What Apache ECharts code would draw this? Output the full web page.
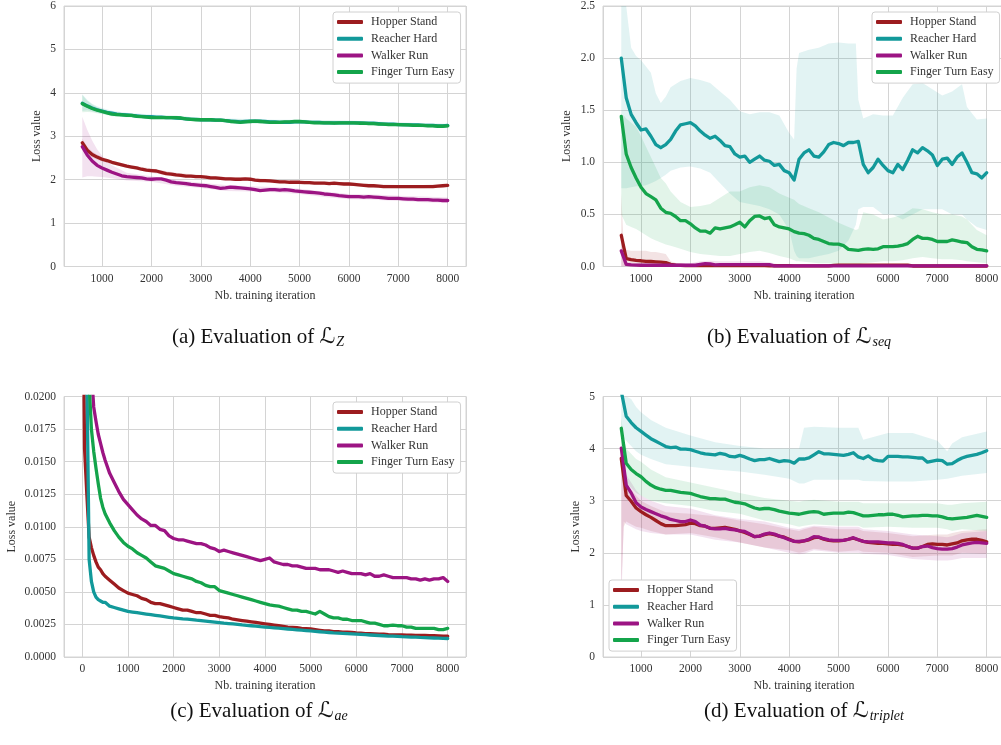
<!DOCTYPE html>
<html><head><meta charset="utf-8">
<script src="https://cdn.jsdelivr.net/npm/echarts@6/dist/echarts.min.js"></script>
<style>html,body{margin:0;padding:0;background:#fff}#c{width:1001px;height:745px}</style>
</head><body><div id="c"></div>
<script>
// ---------- categories / names ----------
const NAMES = ['Hopper Stand', 'Reacher Hard', 'Walker Run', 'Finger Turn Easy'];
const CAPTIONS = [
  ['(a) Evaluation of ', 'Z'],
  ['(b) Evaluation of ', 'seq'],
  ['(c) Evaluation of ', 'ae'],
  ['(d) Evaluation of ', 'triplet']
];
// ---------- iterations ----------
const iterA = [600,700,800,900,1000,1100,1200,1300,1400,1500,
  1600,1700,1800,1900,2000,2100,2200,2300,2400,2500,
  2600,2700,2800,2900,3000,3100,3200,3300,3400,3500,
  3600,3700,3800,3900,4000,4100,4200,4300,4400,4500,
  4600,4700,4800,4900,5000,5100,5200,5300,5400,5500,
  5600,5700,5800,5900,6000,6100,6200,6300,6400,6500,
  6600,6700,6800,6900,7000,7100,7200,7300,7400,7500,
  7600,7700,7800,7900,8000];
const iterC = [0,50,100,150,200,250,300,350,400,450,500,
  600,700,800,900,1000,1100,1200,1300,1400,1500,
  1600,1700,1800,1900,2000,2100,2200,2300,2400,2500,
  2600,2700,2800,2900,3000,3100,3200,3300,3400,3500,
  3600,3700,3800,3900,4000,4100,4200,4300,4400,4500,
  4600,4700,4800,4900,5000,5100,5200,5300,5400,5500,
  5600,5700,5800,5900,6000,6100,6200,6300,6400,6500,
  6600,6700,6800,6900,7000,7100,7200,7300,7400,7500,
  7600,7700,7800,7900,8000];

// ---------- (a) L_Z ----------
const hopA = [2.85,2.68,2.58,2.52,2.47,2.44,2.40,2.37,2.34,2.31,
  2.29,2.27,2.24,2.22,2.21,2.20,2.17,2.14,2.13,2.11,
  2.10,2.08,2.08,2.07,2.07,2.06,2.04,2.04,2.03,2.02,
  2.02,2.01,2.01,2.02,2.01,1.99,1.98,1.98,1.97,1.96,
  1.95,1.95,1.94,1.94,1.94,1.93,1.93,1.92,1.92,1.92,
  1.91,1.92,1.91,1.90,1.90,1.89,1.88,1.87,1.86,1.86,
  1.85,1.84,1.84,1.84,1.84,1.84,1.84,1.84,1.84,1.84,
  1.84,1.84,1.85,1.86,1.87];
const reaA = [3.76,3.70,3.65,3.61,3.58,3.55,3.53,3.51,3.50,3.49,
  3.48,3.47,3.46,3.45,3.45,3.44,3.44,3.43,3.43,3.42,
  3.41,3.40,3.39,3.39,3.38,3.38,3.38,3.37,3.37,3.36,
  3.35,3.34,3.33,3.34,3.35,3.35,3.35,3.34,3.33,3.33,
  3.32,3.32,3.32,3.33,3.33,3.33,3.32,3.32,3.32,3.31,
  3.31,3.31,3.31,3.31,3.31,3.31,3.31,3.30,3.30,3.30,
  3.29,3.28,3.28,3.28,3.27,3.27,3.26,3.26,3.26,3.25,
  3.25,3.25,3.24,3.24,3.25];
const walA = [2.76,2.57,2.43,2.33,2.27,2.22,2.17,2.13,2.09,2.07,
  2.06,2.05,2.04,2.02,2.01,2.02,2.02,1.99,1.95,1.93,
  1.92,1.91,1.89,1.88,1.87,1.86,1.84,1.82,1.80,1.81,
  1.83,1.82,1.81,1.80,1.79,1.77,1.75,1.76,1.77,1.77,
  1.76,1.77,1.76,1.74,1.73,1.72,1.71,1.70,1.69,1.67,
  1.66,1.65,1.63,1.62,1.61,1.61,1.61,1.60,1.61,1.60,
  1.59,1.58,1.57,1.57,1.57,1.56,1.55,1.55,1.54,1.54,
  1.54,1.53,1.53,1.52,1.52];
const finA = [3.75,3.69,3.64,3.60,3.57,3.54,3.51,3.50,3.49,3.48,
  3.48,3.46,3.45,3.44,3.43,3.43,3.43,3.43,3.43,3.43,
  3.42,3.40,3.39,3.38,3.38,3.38,3.38,3.37,3.37,3.36,
  3.34,3.33,3.32,3.33,3.34,3.35,3.34,3.33,3.32,3.32,
  3.32,3.33,3.33,3.34,3.34,3.33,3.32,3.31,3.31,3.31,
  3.31,3.30,3.31,3.31,3.31,3.31,3.30,3.30,3.29,3.29,
  3.28,3.28,3.27,3.27,3.27,3.26,3.26,3.25,3.25,3.25,
  3.24,3.24,3.23,3.23,3.24];
const bandXA = [600,700,800,900,1000,1200,1500,2000,2500,3000,3500,4000,4500,5000,5500,6000,6500,7000,7500,8000];
const hopLoA = [2.75,2.60,2.51,2.46,2.42,2.36,2.27,2.16,2.06,2.03,1.98,1.97,1.92,1.90,1.88,1.86,1.82,1.80,1.80,1.83];
const hopHiA = [2.95,2.76,2.65,2.58,2.52,2.44,2.35,2.26,2.16,2.11,2.06,2.05,2.00,1.98,1.96,1.94,1.90,1.88,1.88,1.91];
const reaLoA = [3.58,3.60,3.57,3.54,3.52,3.48,3.45,3.40,3.39,3.35,3.32,3.30,3.29,3.29,3.27,3.27,3.26,3.23,3.21,3.21];
const reaHiA = [3.97,3.84,3.75,3.69,3.65,3.59,3.54,3.50,3.47,3.42,3.41,3.40,3.38,3.38,3.36,3.36,3.34,3.32,3.30,3.29];
const walLoA = [2.05,2.08,2.08,2.07,2.06,2.03,1.98,1.95,1.86,1.81,1.74,1.73,1.71,1.67,1.60,1.55,1.54,1.51,1.48,1.46];
const walHiA = [3.45,3.15,2.90,2.70,2.55,2.33,2.16,2.08,1.99,1.93,1.88,1.85,1.83,1.79,1.73,1.67,1.66,1.63,1.61,1.59];
const finLoA = [3.55,3.56,3.55,3.53,3.51,3.46,3.44,3.39,3.39,3.34,3.32,3.30,3.28,3.30,3.27,3.27,3.25,3.23,3.21,3.20];
const finHiA = [3.95,3.82,3.73,3.67,3.63,3.57,3.52,3.47,3.47,3.42,3.40,3.38,3.37,3.38,3.36,3.35,3.33,3.31,3.29,3.28];

// ---------- (b) L_seq ----------
const hopB = [0.30,0.075,0.065,0.058,0.055,0.050,0.048,0.045,0.042,0.038,
  0.020,0.012,0.010,0.009,0.008,0.008,0.008,0.008,0.008,0.008,
  0.008,0.008,0.008,0.008,0.008,0.008,0.008,0.008,0.008,0.008,
  0.007,0.007,0.007,0.007,0.007,0.006,0.006,0.006,0.006,0.006,
  0.006,0.006,0.006,0.010,0.012,0.012,0.012,0.012,0.012,0.012,
  0.012,0.012,0.012,0.012,0.012,0.012,0.012,0.012,0.012,0.005,
  0.005,0.005,0.005,0.005,0.005,0.005,0.005,0.005,0.005,0.005,
  0.005,0.005,0.005,0.005,0.005];
const reaB = [2.00,1.62,1.46,1.38,1.31,1.32,1.25,1.17,1.14,1.17,
  1.22,1.30,1.36,1.37,1.38,1.35,1.30,1.26,1.23,1.25,
  1.21,1.16,1.15,1.08,1.05,1.06,1.00,1.03,1.06,1.02,
  1.01,0.97,0.98,0.92,0.90,0.83,1.03,1.09,1.12,1.06,
  1.05,1.10,1.17,1.19,1.18,1.16,1.19,1.19,1.20,0.98,
  0.90,0.95,1.03,0.97,0.92,0.90,0.98,0.93,1.02,1.12,
  1.09,1.14,1.11,1.07,0.97,1.03,1.04,0.98,1.05,1.09,
  1.00,0.90,0.89,0.85,0.90];
const walB = [0.15,0.020,0.015,0.013,0.012,0.012,0.012,0.012,0.012,0.012,
  0.012,0.012,0.012,0.012,0.012,0.012,0.020,0.028,0.025,0.015,
  0.018,0.018,0.018,0.018,0.018,0.018,0.018,0.018,0.018,0.018,
  0.018,0.006,0.006,0.006,0.006,0.006,0.006,0.006,0.006,0.006,
  0.006,0.006,0.006,0.006,0.006,0.006,0.006,0.006,0.006,0.006,
  0.006,0.006,0.006,0.006,0.006,0.006,0.006,0.006,0.006,0.006,
  0.006,0.006,0.006,0.006,0.006,0.006,0.006,0.006,0.006,0.006,
  0.006,0.006,0.006,0.006,0.006];
const finB = [1.44,1.08,0.95,0.85,0.76,0.70,0.67,0.64,0.56,0.52,
  0.51,0.48,0.44,0.44,0.41,0.37,0.34,0.34,0.32,0.37,
  0.36,0.37,0.38,0.40,0.425,0.38,0.44,0.48,0.485,0.46,
  0.47,0.40,0.38,0.37,0.36,0.335,0.32,0.315,0.30,0.27,
  0.26,0.24,0.22,0.215,0.215,0.20,0.165,0.16,0.155,0.165,
  0.17,0.165,0.17,0.19,0.19,0.19,0.195,0.205,0.22,0.26,
  0.29,0.27,0.27,0.26,0.24,0.24,0.24,0.255,0.245,0.235,
  0.23,0.19,0.165,0.16,0.15];
const bandXB = [600,650,700,800,900,1000,1100,1200,1300,1400,1500,1600,1800,2000,2200,2400,2600,2800,3000,3200,3400,3600,3800,4000,4100,4150,4200,4400,4600,4800,5000,5200,5350,5400,5500,5700,5900,6100,6300,6500,6700,6900,7100,7300,7500,7600,7800,8000];
const reaHiB = [2.8,2.6,2.5,2.1,2.02,1.98,1.92,1.86,1.66,1.57,1.63,1.72,1.78,1.81,1.79,1.76,1.68,1.60,1.49,1.46,1.48,1.48,1.45,1.28,1.22,1.9,2.05,2.08,2.10,2.14,2.15,2.14,2.14,1.6,1.42,1.46,1.45,1.45,1.62,1.75,1.76,1.70,1.64,1.68,1.75,1.53,1.41,1.42];
const reaLoB = [0.75,0.75,0.75,0.76,0.77,0.77,0.78,0.80,0.82,0.85,0.88,0.92,0.95,0.96,0.94,0.90,0.80,0.70,0.62,0.60,0.58,0.55,0.50,0.35,0.15,0.10,0.08,0.08,0.10,0.12,0.15,0.25,0.40,0.55,0.57,0.57,0.50,0.50,0.45,0.50,0.55,0.55,0.55,0.50,0.50,0.45,0.38,0.35];
const finHiB = [1.45,1.45,1.42,1.38,1.34,1.25,1.15,1.05,0.95,0.85,0.80,0.72,0.62,0.57,0.58,0.60,0.66,0.72,0.72,0.76,0.78,0.76,0.70,0.66,0.64,0.62,0.60,0.56,0.52,0.47,0.42,0.38,0.35,0.36,0.52,0.50,0.45,0.47,0.50,0.56,0.55,0.52,0.50,0.50,0.48,0.45,0.35,0.30];
const finLoB = [0.50,0.45,0.40,0.38,0.36,0.33,0.30,0.27,0.25,0.23,0.21,0.20,0.17,0.14,0.12,0.11,0.10,0.10,0.12,0.14,0.15,0.13,0.10,0.08,0.06,0.05,0.05,0.04,0.03,0.03,0.02,0.02,0.02,0.02,0.03,0.04,0.05,0.05,0.06,0.08,0.09,0.08,0.07,0.07,0.06,0.05,0.04,0.03];
const hopHiB = [0.70,0.20,0.16,0.15,0.15,0.15,0.15,0.14,0.14,0.13,0.12,0.05,0.02,0.02,0.02,0.02,0.02,0.02,0.02,0.02,0.02,0.02,0.02,0.015,0.015,0.015,0.015,0.015,0.015,0.02,0.025,0.025,0.025,0.025,0.025,0.025,0.025,0.025,0.025,0.01,0.01,0.01,0.01,0.01,0.01,0.01,0.01,0.01];
const hopLoB = [0,0,0,0,0,0,0,0,0,0,0,0,0,0,0,0,0,0,0,0,0,0,0,0,0,0,0,0,0,0,0,0,0,0,0,0,0,0,0,0,0,0,0,0,0,0,0,0];
const walHiB = [0.30,0.05,0.04,0.035,0.03,0.03,0.03,0.03,0.03,0.03,0.03,0.03,0.03,0.03,0.05,0.055,0.05,0.05,0.05,0.05,0.05,0.04,0.02,0.015,0.015,0.015,0.015,0.015,0.015,0.015,0.015,0.015,0.015,0.015,0.015,0.015,0.015,0.015,0.015,0.015,0.015,0.015,0.015,0.015,0.015,0.015,0.015,0.015];
const walLoB = [0,0,0,0,0,0,0,0,0,0,0,0,0,0,0,0,0,0,0,0,0,0,0,0,0,0,0,0,0,0,0,0,0,0,0,0,0,0,0,0,0,0,0,0,0,0,0,0];

// ---------- (c) L_ae ----------
const hopC = [0.035,0.016,0.0125,0.0092,0.0084,0.0078,0.0073,0.0069,0.0067,0.0064,0.0062,
  0.0059,0.0056,0.0053,0.0051,0.0049,0.0048,0.0047,0.0045,0.0044,0.0042,
  0.0041,0.0041,0.0040,0.0039,0.0038,0.0037,0.0036,0.0036,0.0035,0.0034,
  0.0034,0.0033,0.0032,0.0032,0.0031,0.00305,0.0030,0.0029,0.00285,0.0028,
  0.00275,0.0027,0.00265,0.0026,0.00255,0.0025,0.00245,0.0024,0.00235,0.0023,
  0.00228,0.00225,0.0022,0.00218,0.00215,0.0021,0.00205,0.0020,0.0020,0.00195,
  0.00195,0.0019,0.0019,0.00188,0.00185,0.00183,0.0018,0.0018,0.00178,0.00175,
  0.00175,0.00172,0.0017,0.0017,0.0017,0.00168,0.00168,0.00166,0.00165,0.00165,
  0.00163,0.00163,0.00162,0.0016,0.0016];
const reaC = [0.08,0.04,0.022,0.0075,0.0058,0.0050,0.0046,0.0044,0.0043,0.0042,0.0042,
  0.0039,0.0038,0.0037,0.0036,0.0035,0.00345,0.0034,0.00335,0.0033,0.00325,
  0.0032,0.00315,0.0031,0.00305,0.0030,0.00297,0.00293,0.0029,0.00287,0.00283,
  0.0028,0.00276,0.00272,0.00268,0.00264,0.0026,0.00257,0.00254,0.0025,0.00246,
  0.00243,0.0024,0.00237,0.00233,0.0023,0.00227,0.00224,0.00221,0.00218,0.00215,
  0.00212,0.00209,0.00206,0.00203,0.0020,0.00197,0.00194,0.00191,0.00188,0.00185,
  0.00183,0.00181,0.00179,0.00177,0.00175,0.00173,0.00171,0.00169,0.00167,0.00165,
  0.00163,0.00161,0.0016,0.00158,0.00156,0.00155,0.00153,0.00152,0.0015,0.00149,
  0.00147,0.00146,0.00145,0.00143,0.00142];
const walC = [0.1,0.07,0.045,0.03,0.022,0.0192,0.0181,0.0171,0.0164,0.0157,0.0151,
  0.0141,0.0134,0.0127,0.0121,0.0117,0.0113,0.0109,0.0106,0.0104,0.0101,
  0.0101,0.0098,0.0097,0.0093,0.0091,0.0090,0.0090,0.0089,0.0088,0.0087,
  0.0087,0.0086,0.0084,0.0083,0.0081,0.0082,0.0081,0.0080,0.0079,0.0078,
  0.0077,0.0076,0.0075,0.0074,0.0075,0.0076,0.0073,0.0072,0.0071,0.0071,
  0.0070,0.0070,0.0069,0.0068,0.0068,0.0068,0.0067,0.0067,0.0067,0.0066,
  0.0065,0.0066,0.0065,0.0064,0.0064,0.0064,0.0063,0.0064,0.0062,0.0062,
  0.0063,0.0062,0.0061,0.0061,0.0061,0.0061,0.0060,0.0060,0.0059,0.0060,
  0.0059,0.0060,0.0060,0.0061,0.0058];
const finC = [0.09,0.05,0.03,0.021,0.0175,0.0158,0.0145,0.0133,0.0122,0.0115,0.0110,
  0.0103,0.0097,0.0092,0.0088,0.0085,0.0083,0.0080,0.0078,0.0076,0.0073,
  0.0070,0.0069,0.0068,0.0066,0.0064,0.0063,0.0062,0.0061,0.0060,0.0058,
  0.0057,0.0055,0.0054,0.0054,0.0051,0.0050,0.0049,0.0048,0.0047,0.0046,
  0.0045,0.0044,0.0043,0.0042,0.0041,0.0040,0.00395,0.0039,0.0038,0.0037,
  0.0036,0.0036,0.0035,0.0035,0.0034,0.0033,0.0035,0.0033,0.0031,0.0030,
  0.0030,0.0029,0.0029,0.0028,0.0028,0.0028,0.0027,0.0026,0.0026,0.0025,
  0.0024,0.0024,0.00245,0.0024,0.0024,0.0023,0.0023,0.0022,0.0022,0.0022,
  0.0022,0.0022,0.0021,0.0021,0.0022];

// ---------- (d) L_triplet ----------
const hopD = [3.81,3.10,2.99,2.86,2.79,2.73,2.68,2.62,2.56,2.52,
  2.52,2.52,2.53,2.54,2.57,2.56,2.52,2.51,2.47,2.47,
  2.48,2.49,2.47,2.45,2.42,2.39,2.35,2.31,2.32,2.35,
  2.37,2.35,2.32,2.30,2.26,2.22,2.21,2.23,2.25,2.29,
  2.30,2.26,2.24,2.23,2.23,2.24,2.26,2.28,2.25,2.22,
  2.20,2.19,2.18,2.18,2.17,2.16,2.16,2.15,2.12,2.09,
  2.09,2.12,2.16,2.17,2.16,2.16,2.15,2.17,2.19,2.23,
  2.25,2.26,2.26,2.24,2.21];
const reaD = [5.10,4.62,4.50,4.40,4.33,4.26,4.19,4.14,4.09,4.04,
  4.02,4.03,3.99,3.99,3.98,3.95,3.92,3.90,3.89,3.88,
  3.91,3.89,3.85,3.84,3.87,3.84,3.80,3.77,3.79,3.79,
  3.81,3.78,3.75,3.77,3.76,3.72,3.80,3.80,3.82,3.88,
  3.94,3.90,3.90,3.89,3.88,3.87,3.89,3.92,3.84,3.81,
  3.86,3.79,3.77,3.76,3.85,3.85,3.85,3.84,3.84,3.83,
  3.82,3.82,3.74,3.76,3.78,3.77,3.70,3.71,3.77,3.82,
  3.85,3.87,3.89,3.92,3.96];
const walD = [4.01,3.30,3.15,2.96,2.88,2.83,2.79,2.75,2.71,2.68,
  2.64,2.62,2.60,2.60,2.63,2.60,2.53,2.51,2.47,2.46,
  2.46,2.47,2.45,2.44,2.42,2.41,2.36,2.31,2.32,2.36,
  2.38,2.36,2.32,2.29,2.25,2.22,2.22,2.23,2.26,2.31,
  2.30,2.27,2.25,2.24,2.24,2.24,2.26,2.29,2.25,2.22,
  2.21,2.21,2.21,2.20,2.19,2.19,2.18,2.16,2.12,2.09,
  2.09,2.12,2.13,2.10,2.08,2.07,2.07,2.08,2.11,2.15,
  2.17,2.19,2.20,2.19,2.18];
const finD = [4.39,3.72,3.60,3.52,3.46,3.37,3.30,3.25,3.22,3.20,
  3.20,3.18,3.16,3.15,3.14,3.11,3.08,3.06,3.04,3.04,
  3.03,3.03,3.00,2.97,2.96,2.94,2.90,2.86,2.84,2.85,
  2.85,2.83,2.80,2.78,2.76,2.75,2.74,2.76,2.78,2.79,
  2.78,2.74,2.75,2.76,2.76,2.76,2.78,2.77,2.74,2.71,
  2.71,2.72,2.73,2.73,2.74,2.74,2.72,2.69,2.70,2.71,
  2.71,2.72,2.72,2.71,2.71,2.69,2.66,2.65,2.66,2.67,
  2.68,2.70,2.72,2.70,2.68];
const bandXD = [600,650,700,800,900,1000,1200,1500,2000,2500,3000,3500,4000,4200,4300,4500,5000,5400,5500,6000,6500,7000,7200,7300,7500,8000];
const reaHiD = [6.0,5.6,5.2,4.95,4.8,4.7,4.55,4.4,4.25,4.12,4.05,4.0,4.0,4.0,4.4,4.42,4.4,4.4,4.17,4.3,4.3,4.15,3.95,4.1,4.22,4.33];
const reaLoD = [4.3,4.2,4.15,4.05,3.95,3.88,3.8,3.7,3.65,3.6,3.56,3.5,3.42,3.33,3.33,3.40,3.40,3.40,3.38,3.37,3.37,3.40,3.42,3.44,3.48,3.53];
const finHiD = [4.6,4.2,4.0,3.9,3.8,3.75,3.6,3.45,3.35,3.25,3.15,3.05,3.0,2.98,3.0,3.02,2.98,2.98,2.95,2.95,2.95,2.95,2.92,2.92,2.95,2.98];
const finLoD = [3.6,3.4,3.35,3.25,3.15,3.1,3.0,2.95,2.9,2.8,2.75,2.62,2.55,2.5,2.52,2.55,2.52,2.52,2.48,2.5,2.48,2.48,2.45,2.42,2.45,2.42];
const hopHiD = [4.0,3.5,3.3,3.2,3.1,3.0,2.9,2.78,2.75,2.7,2.62,2.55,2.45,2.42,2.45,2.5,2.45,2.45,2.42,2.38,2.32,2.35,2.35,2.38,2.42,2.45];
const hopLoD = [1.3,2.5,2.6,2.55,2.5,2.48,2.42,2.35,2.38,2.3,2.2,2.1,2.05,2.0,2.02,2.08,2.02,2.05,2.02,2.0,1.92,1.95,1.95,1.95,2.0,1.98];
const walHiD = [4.2,3.7,3.5,3.35,3.2,3.1,3.0,2.9,2.85,2.72,2.65,2.6,2.48,2.45,2.48,2.52,2.5,2.5,2.45,2.42,2.35,2.32,2.3,2.32,2.38,2.42];
const walLoD = [1.0,2.6,2.55,2.5,2.45,2.42,2.38,2.35,2.35,2.25,2.2,2.1,2.0,1.97,1.98,2.05,2.0,2.0,1.98,1.96,1.88,1.85,1.85,1.86,1.9,1.9];

// ---------- styling ----------
const COLORS = ['#9c1c1f', '#12999a', '#9c1483', '#14a44b'];
const SERIF = "'Liberation Serif', 'Times New Roman', serif";
const TXT = '#333333';
const GRIDC = '#d4d4d4';
const BAND_ALPHA = 0.12;

function rgba(hex, a) {
  const n = parseInt(hex.slice(1), 16);
  return 'rgba(' + (n >> 16 & 255) + ',' + (n >> 8 & 255) + ',' + (n & 255) + ',' + a + ')';
}
function zip(xs, ys) { return xs.map((x, i) => [x, ys[i]]); }

function bandSeries(gi, xs, lo, hi, color, yMax) {
  const pts = xs.map((x, i) => [x, lo[i], hi[i]]);
  return {
    type: 'custom', name: 'band' + gi + color, xAxisIndex: gi, yAxisIndex: gi,
    silent: true, clip: true, z: 1, animation: false,
    data: pts, encode: { x: 0, y: [1, 2] },
    renderItem: function (params, api) {
      if (params.dataIndex !== 0) return null;
      const up = pts.map(p => api.coord([p[0], Math.min(p[2], yMax)]));
      const dn = pts.slice().reverse().map(p => api.coord([p[0], Math.max(p[1], 0)]));
      return { type: 'polygon', shape: { points: up.concat(dn) }, style: { fill: rgba(color, BAND_ALPHA) }, silent: true };
    }
  };
}
function lineSeries(gi, idx, xs, ys) {
  return {
    type: 'line', name: NAMES[idx], xAxisIndex: gi, yAxisIndex: gi,
    data: zip(xs, ys), symbol: 'none', showSymbol: false, clip: true, z: 3,
    silent: true, animation: false,
    lineStyle: { width: 3.3, color: COLORS[idx], cap: 'round', join: 'round' },
    itemStyle: { color: COLORS[idx] }
  };
}
const labelStyle = { color: TXT, fontFamily: SERIF, fontSize: 11.5 };
function xAx(gi, min, max) {
  return {
    type: 'value', gridIndex: gi, min: min, max: max, splitNumber: 8,
    minInterval: 1000, maxInterval: 1000,
    axisLine: { show: false }, axisTick: { show: false },
    axisLabel: Object.assign({ showMinLabel: false, showMaxLabel: false, margin: 6, formatter: v => String(v) }, labelStyle),
    splitLine: { show: true, lineStyle: { color: GRIDC, width: 1 } },
    name: 'Nb. training iteration', nameLocation: 'middle', nameGap: 23,
    nameTextStyle: { color: TXT, fontFamily: SERIF, fontSize: 12 }
  };
}
function yAx(gi, max, interval, dec, gap) {
  return {
    type: 'value', gridIndex: gi, min: 0, max: max, interval: interval,
    axisLine: { show: false }, axisTick: { show: false },
    axisLabel: Object.assign({ margin: 8, formatter: v => v.toFixed(dec) }, labelStyle),
    splitLine: { show: true, lineStyle: { color: GRIDC, width: 1 } },
    name: 'Loss value', nameLocation: 'middle', nameGap: gap, nameRotate: 90,
    nameTextStyle: { color: TXT, fontFamily: SERIF, fontSize: 12 }
  };
}
function grid(left, top) {
  return { left: left, top: top, width: 402, height: 260.5, show: true, borderColor: GRIDC, borderWidth: 1,
    backgroundColor: '#fff', containLabel: false, outerBoundsMode: 'none' };
}
function legend(left, top) {
  return {
    left: left, top: top, orient: 'vertical', data: NAMES, selectedMode: false,
    icon: 'roundRect', itemWidth: 26, itemHeight: 4, itemGap: 2.7,
    padding: [3, 6, 4, 4], backgroundColor: '#ffffff', borderColor: '#d0d0d0', borderWidth: 1, borderRadius: 3,
    textStyle: { color: TXT, fontFamily: SERIF, fontSize: 12, lineHeight: 14, padding: [0, 0, 0, 3] }, z: 10
  };
}
function caption(i, cx, cy) {
  return {
    type: 'text', x: cx, y: cy, silent: true, z: 10,
    style: {
      text: '{m|' + CAPTIONS[i][0] + '}{L|\u2112}{s|' + CAPTIONS[i][1] + '}',
      align: 'center', verticalAlign: 'middle',
      rich: {
        m: { fontFamily: SERIF, fontSize: 21, fill: '#111', color: '#111', lineHeight: 24 },
        L: { fontFamily: "'DejaVu Serif', 'DejaVu Sans', serif", fontSize: 22, fill: '#111', color: '#111', lineHeight: 24 },
        s: { fontFamily: SERIF, fontStyle: 'italic', fontSize: 14, fill: '#111', color: '#111', lineHeight: 14, padding: [10, 0, 0, 1] }
      }
    }
  };
}

const series = [
  // (a)
  bandSeries(0, bandXA, hopLoA, hopHiA, COLORS[0], 6),
  bandSeries(0, bandXA, reaLoA, reaHiA, COLORS[1], 6),
  bandSeries(0, bandXA, walLoA, walHiA, COLORS[2], 6),
  bandSeries(0, bandXA, finLoA, finHiA, COLORS[3], 6),
  lineSeries(0, 0, iterA, hopA), lineSeries(0, 1, iterA, reaA), lineSeries(0, 2, iterA, walA), lineSeries(0, 3, iterA, finA),
  // (b)
  bandSeries(1, bandXB, hopLoB, hopHiB, COLORS[0], 2.5),
  bandSeries(1, bandXB, reaLoB, reaHiB, COLORS[1], 2.5),
  bandSeries(1, bandXB, walLoB, walHiB, COLORS[2], 2.5),
  bandSeries(1, bandXB, finLoB, finHiB, COLORS[3], 2.5),
  lineSeries(1, 0, iterA, hopB), lineSeries(1, 1, iterA, reaB), lineSeries(1, 2, iterA, walB), lineSeries(1, 3, iterA, finB),
  // (c)
  lineSeries(2, 0, iterC, hopC), lineSeries(2, 1, iterC, reaC), lineSeries(2, 2, iterC, walC), lineSeries(2, 3, iterC, finC),
  // (d)
  bandSeries(3, bandXD, hopLoD, hopHiD, COLORS[0], 5),
  bandSeries(3, bandXD, reaLoD, reaHiD, COLORS[1], 5),
  bandSeries(3, bandXD, walLoD, walHiD, COLORS[2], 5),
  bandSeries(3, bandXD, finLoD, finHiD, COLORS[3], 5),
  lineSeries(3, 0, iterA, hopD), lineSeries(3, 1, iterA, reaD), lineSeries(3, 2, iterA, walD), lineSeries(3, 3, iterA, finD)
];

const chart = echarts.init(document.getElementById('c'), null, { renderer: 'canvas' });
chart.setOption({
  animation: false,
  backgroundColor: '#ffffff',
  grid: [grid(64, 6), grid(603, 6), grid(64, 396.5), grid(603, 396.5)],
  xAxis: [xAx(0, 230, 8370), xAx(1, 230, 8370), xAx(2, -400, 8400), xAx(3, 230, 8370)],
  yAxis: [yAx(0, 6, 1, 0, 21), yAx(1, 2.5, 0.5, 1, 30), yAx(2, 0.02, 0.0025, 4, 46), yAx(3, 5, 1, 0, 21)],
  legend: [legend(333, 12), legend(872, 12), legend(333, 402), legend(609, 580)],
  graphic: [caption(0, 258, 337), caption(1, 799, 337), caption(2, 259, 711), caption(3, 804, 711)],
  series: series
});
</script></body></html>
